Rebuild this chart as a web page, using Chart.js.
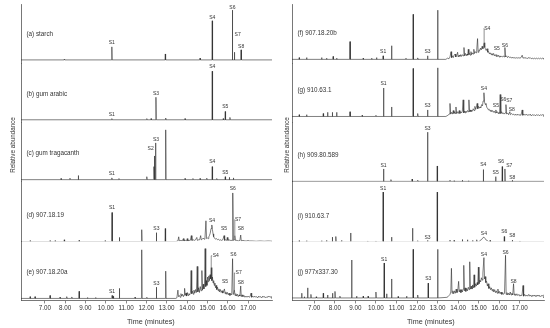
<!DOCTYPE html>
<html>
<head>
<meta charset="utf-8">
<script src="https://cdn.jsdelivr.net/npm/chart.js@4.4.1/dist/chart.umd.min.js"></script>
<style>
  html, body { margin: 0; padding: 0; background: #fff; }
  #wrap { position: relative; width: 550px; height: 328px; }
  canvas { position: absolute; top: 0; }
  #left { left: 0; }
  #right { left: 275px; }
</style>
</head>
<body>
<div id="wrap">
  <canvas id="left" width="275" height="328"></canvas>
  <canvas id="right" width="275" height="328"></canvas>
</div>
<script>
// ---------- data (time in minutes, abundance in % of trace height) ----------
const timeTicks = [7, 8, 9, 10, 11, 12, 13, 14, 15, 16, 17];

const leftNames = ['(a) starch', '(b) gum arabic', '(c) gum tragacanth', '(d) 907.18.19', '(e) 907.18.20a'];
const rightNames = ['(f) 907.18.20b', '(g) 910.63.1', '(h) 909.80.589', '(i) 910.63.7', '(j) 977x337.30'];

// narrow peaks: time, height
const peaksA = [7.96,1, 10.30,22, 12.93,10, 14.64,3, 15.24,66, 16.23,84, 16.33,13, 16.66,17];
const peaksB = [10.30,2, 12.02,2, 12.23,2, 12.47,38, 12.95,3, 13.90,2, 15.24,82, 15.78,2, 15.88,14, 16.11,4];
const peaksC = [7.80,2, 8.24,2.5, 8.65,7, 10.30,3, 10.65,2, 12.02,5, 12.37,22, 12.40,40, 12.45,62, 12.95,84,
  13.90,2, 14.29,2, 14.64,2, 14.97,2.5, 15.24,22, 15.46,2, 15.88,5, 16.08,4, 16.28,3];
const peaksD = [6.28,1.5, 7.26,1.5, 7.51,1.5, 7.96,3, 8.69,2, 9.97,1.5, 10.31,49, 10.67,7, 11.77,20, 12.49,15, 12.93,22];
const peaksE = [6.28,3, 6.52,3, 7.26,5, 7.75,2, 8.08,3, 8.33,2.5, 8.69,12, 9.10,1.5, 9.50,1.5, 10.31,5, 10.37,3.5,
  10.67,17, 11.44,2, 11.77,82, 12.02,2, 12.49,19, 12.95,46];
const peaksF = [6.27,3, 6.63,3, 7.36,3, 7.60,2, 7.92,5, 8.09,2, 8.74,30, 9.38,2, 9.79,2, 10.03,3, 10.35,6, 10.76,23,
  11.46,2, 11.81,76, 12.03,2.5, 12.51,6, 13.00,83];
const peaksG = [6.27,3, 6.63,3, 7.44,5, 7.65,7, 7.88,7, 8.09,7, 8.74,8, 9.33,2, 10.00,2, 10.37,48, 10.76,16,
  11.81,81, 12.03,5, 12.51,11, 13.00,82];
const peaksH = [10.37,21, 10.73,3, 11.76,4, 12.03,2, 12.51,83, 12.98,26, 13.60,2, 13.80,1, 14.20,2, 14.50,1,
  15.22,20, 15.82,8, 16.14,25, 16.27,21, 16.63,2];
const peaksI = [6.27,2, 6.63,2, 7.36,2, 7.60,2.5, 7.88,8, 8.05,9, 8.33,2.5, 8.77,15, 9.60,1.5, 10.00,1.5, 10.35,84,
  10.76,8, 11.78,23, 12.03,2, 12.51,2.5, 12.98,84, 13.60,3, 13.80,2.5, 14.20,4, 14.45,3.5, 14.70,2.5, 14.90,3.5,
  15.55,2.5, 16.24,9, 16.63,3, 17.00,1.5];
const peaksJ = [6.39,8, 6.52,2, 6.68,17, 6.84,6, 7.10,2, 7.44,8, 7.65,5, 7.89,8, 8.01,11, 8.25,3, 8.82,64, 9.06,3,
  9.38,3, 9.62,3, 10.00,10, 10.40,59, 10.52,7, 10.76,32, 11.08,2.5, 11.49,3, 11.81,82, 12.03,5, 12.54,25, 13.00,82];

// unresolved hump regions: time, level
const humpD = [13.45,0, 13.55,1, 13.59,8, 13.62,1, 13.70,2, 13.76,1, 13.82,5, 13.85,1, 13.92,2, 13.97,1, 14.01,5,
  14.04,1, 14.10,2, 14.16,2, 14.21,10, 14.24,2, 14.30,3, 14.36,2, 14.42,3, 14.48,7, 14.51,2, 14.57,3, 14.62,3,
  14.67,10, 14.70,3, 14.75,4, 14.80,6, 14.84,4, 14.88,5, 14.93,35, 14.96,5, 15.00,6, 15.04,5, 15.07,8, 15.10,10,
  15.14,14, 15.18,22, 15.22,28, 15.25,20, 15.28,13, 15.31,8, 15.35,6, 15.40,4, 15.45,5, 15.50,3, 15.55,4, 15.60,2,
  15.65,3, 15.70,2, 15.76,3, 15.82,10, 15.85,2, 15.90,3, 15.95,2, 15.98,7, 16.01,2, 16.06,3, 16.12,2, 16.22,2,
  16.25,82, 16.28,2, 16.32,3, 16.35,10, 16.38,2, 16.45,2, 16.52,1, 16.60,2, 16.64,11, 16.67,1, 16.75,2, 16.85,1,
  16.95,1, 17.00,2, 17.05,1, 17.20,1, 17.40,0.5, 17.60,1, 17.80,0.5, 18.00,1, 18.20,0.5];
const humpE = [13.45,0, 13.50,1, 13.55,14, 13.58,3, 13.62,5, 13.66,2, 13.70,8, 13.74,4, 13.78,7, 13.82,3, 13.86,6,
  13.88,17, 13.91,5, 13.95,9, 13.98,4, 14.01,10, 14.05,5, 14.09,8, 14.13,6, 14.17,10, 14.20,47, 14.23,8, 14.27,12,
  14.31,7, 14.34,14, 14.38,9, 14.42,15, 14.46,10, 14.50,54, 14.53,11, 14.57,18, 14.61,10, 14.65,20, 14.69,13,
  14.73,47, 14.76,14, 14.80,24, 14.83,16, 14.86,26, 14.89,84, 14.92,20, 14.95,30, 14.98,22, 15.01,36, 15.04,28,
  15.07,38, 15.10,30, 15.13,40, 15.16,33, 15.19,52, 15.22,30, 15.25,36, 15.28,26, 15.31,30, 15.34,22, 15.37,26,
  15.40,18, 15.43,22, 15.46,15, 15.50,19, 15.53,13, 15.57,16, 15.60,11, 15.64,15, 15.68,10, 15.72,13, 15.76,9,
  15.80,12, 15.84,16, 15.87,8, 15.91,11, 15.95,7, 15.99,10, 16.03,6, 16.07,9, 16.11,5, 16.15,8, 16.20,6, 16.24,67,
  16.27,7, 16.30,9, 16.33,14, 16.36,5, 16.40,8, 16.44,4, 16.48,7, 16.52,3, 16.56,6, 16.60,4, 16.64,21, 16.67,3,
  16.71,6, 16.75,3, 16.80,5, 16.85,2, 16.90,4, 16.95,2, 17.00,4, 17.05,2, 17.10,3, 17.15,9, 17.18,2, 17.23,4,
  17.28,2, 17.33,4, 17.38,2, 17.43,3, 17.48,1, 17.53,4, 17.58,2, 17.63,3, 17.68,1, 17.73,4, 17.78,2, 17.83,3,
  17.88,1, 17.93,3, 17.98,2, 18.03,4, 18.08,2, 18.13,3, 18.20,2];
const humpF = [13.40,0, 13.48,2, 13.55,1, 13.60,4, 13.65,13, 13.68,3, 13.72,6, 13.76,3, 13.80,7, 13.85,9, 13.88,4,
  13.92,6, 13.97,12, 14.00,4, 14.04,7, 14.08,5, 14.12,8, 14.16,5, 14.20,8, 14.24,6, 14.28,20, 14.31,6, 14.35,10,
  14.39,6, 14.43,9, 14.46,7, 14.49,17, 14.52,8, 14.56,10, 14.59,7, 14.62,13, 14.65,8, 14.69,11, 14.72,9, 14.76,17,
  14.79,10, 14.83,13, 14.87,11, 14.90,16, 14.94,35, 14.97,12, 15.01,16, 15.05,15, 15.08,19, 15.12,16, 15.16,22,
  15.20,18, 15.23,24, 15.26,28, 15.29,20, 15.32,18, 15.36,15, 15.40,18, 15.44,12, 15.48,13, 15.52,9, 15.56,11,
  15.60,8, 15.64,10, 15.68,7, 15.72,10, 15.76,6, 15.80,8, 15.84,5, 15.87,8, 15.91,5, 15.95,7, 15.99,4, 16.03,6,
  16.07,4, 16.11,5, 16.15,4, 16.20,6, 16.24,4, 16.27,20, 16.30,4, 16.35,6, 16.40,3, 16.45,5, 16.50,3, 16.55,4,
  16.60,2, 16.65,4, 16.70,2, 16.75,3, 16.80,2, 16.85,3, 16.90,2, 16.95,3, 17.00,2, 17.05,3, 17.11,7, 17.15,2,
  17.20,3, 17.25,2, 17.30,3, 17.35,1, 17.40,3, 17.45,2, 17.50,3, 17.55,1, 17.60,2, 17.65,1, 17.70,2, 17.75,1,
  17.80,2, 17.85,1, 17.90,2, 17.95,1, 18.00,2, 18.05,1, 18.10,2, 18.20,1];
const humpG = [13.40,0, 13.50,2, 13.56,4, 13.60,22, 13.63,4, 13.67,7, 13.71,4, 13.76,10, 13.79,5, 13.83,8, 13.86,5,
  13.89,16, 13.92,5, 13.96,8, 14.00,5, 14.05,10, 14.08,5, 14.12,8, 14.16,6, 14.20,9, 14.24,28, 14.27,6, 14.31,9,
  14.34,6, 14.37,9, 14.41,7, 14.45,10, 14.48,8, 14.52,28, 14.55,8, 14.59,11, 14.62,8, 14.65,10, 14.69,9, 14.73,13,
  14.77,10, 14.81,17, 14.85,12, 14.88,15, 14.92,22, 14.95,13, 14.99,17, 15.03,14, 15.06,16, 15.10,15, 15.14,20,
  15.18,18, 15.21,26, 15.25,40, 15.28,24, 15.32,20, 15.35,22, 15.39,15, 15.43,14, 15.47,11, 15.51,12, 15.55,9,
  15.59,11, 15.63,8, 15.67,10, 15.71,7, 15.75,9, 15.79,6, 15.83,11, 15.86,6, 15.90,8, 15.94,5, 15.98,7, 16.01,5,
  16.04,37, 16.07,5, 16.11,8, 16.15,5, 16.19,6, 16.23,4, 16.28,6, 16.32,20, 16.35,4, 16.40,6, 16.45,3, 16.51,8,
  16.54,3, 16.60,5, 16.65,3, 16.70,4, 16.75,2, 16.80,4, 16.85,2, 16.90,4, 16.95,2, 17.00,3, 17.05,2, 17.11,11,
  17.14,2, 17.20,4, 17.25,2, 17.30,4, 17.35,2, 17.40,3, 17.45,2, 17.50,4, 17.55,1, 17.60,3, 17.65,2, 17.70,3,
  17.75,1, 17.80,3, 17.85,2, 17.90,3, 17.95,1, 18.00,3, 18.05,2, 18.10,3, 18.20,2];
const humpI = [15.02,0, 15.08,3, 15.14,4, 15.20,7, 15.25,8, 15.30,6, 15.36,3, 15.42,2, 15.48,0];
const humpJ = [13.45,1, 13.50,2, 13.55,4, 13.60,6, 13.64,10, 13.67,50, 13.70,8, 13.74,12, 13.78,7, 13.82,12, 13.86,8,
  13.90,15, 13.94,9, 13.98,13, 14.02,28, 14.05,10, 14.09,14, 14.13,9, 14.17,14, 14.20,10, 14.24,15, 14.27,55,
  14.30,12, 14.34,17, 14.37,11, 14.41,16, 14.45,12, 14.49,18, 14.53,14, 14.56,61, 14.59,15, 14.63,20, 14.67,15,
  14.70,22, 14.74,17, 14.77,39, 14.80,18, 14.84,24, 14.88,20, 14.92,26, 14.95,22, 14.98,52, 15.01,24, 15.05,30,
  15.09,27, 15.13,34, 15.17,30, 15.20,42, 15.25,68, 15.28,32, 15.31,36, 15.34,26, 15.38,28, 15.42,20, 15.45,24,
  15.49,16, 15.53,19, 15.57,14, 15.61,17, 15.65,12, 15.69,15, 15.73,10, 15.77,14, 15.81,9, 15.85,12, 15.89,8,
  15.93,15, 15.96,8, 16.00,11, 16.04,7, 16.08,10, 16.12,6, 16.16,9, 16.20,6, 16.25,8, 16.30,72, 16.33,6, 16.37,9,
  16.41,5, 16.45,8, 16.49,5, 16.53,10, 16.57,5, 16.61,8, 16.65,5, 16.69,24, 16.72,5, 16.76,7, 16.80,4, 16.85,7,
  16.90,4, 16.95,6, 17.00,3, 17.05,5, 17.10,4, 17.15,21, 17.18,3, 17.23,6, 17.28,3, 17.33,5, 17.38,3, 17.43,6,
  17.48,3, 17.53,5, 17.58,2, 17.63,5, 17.68,3, 17.73,5, 17.78,2, 17.83,5, 17.88,3, 17.93,5, 17.98,2, 18.03,4,
  18.08,3, 18.13,5, 18.20,3];

// peak labels: name, time, level [, leader time, leader level]
const labelsA = [['S1',10.30,29], ['S4',15.24,71], ['S6',16.23,89], ['S7',16.49,42], ['S8',16.66,23]];
const labelsB = [['S1',10.30,8], ['S3',12.47,44], ['S4',15.24,90], ['S5',15.88,22]];
const labelsC = [['S1',10.30,10], ['S2',12.21,52], ['S3',12.47,68], ['S4',15.24,30], ['S5',15.88,12]];
const labelsD = [['S1',10.31,57], ['S3',12.49,21], ['S4',15.23,35], ['S5',15.82,21], ['S6',16.25,89],
  ['S7',16.51,37,16.35,10], ['S8',16.64,21]];
const labelsE = [['S1',10.31,11], ['S3',12.49,25], ['S4',15.41,72,15.19,52], ['S5',15.87,29], ['S6',16.28,74],
  ['S7',16.54,43,16.33,14], ['S8',16.64,27]];
const labelsF = [['S1',10.35,13], ['S3',12.51,13], ['S4',15.41,52,15.26,28], ['S5',15.87,18], ['S6',16.27,24]];
const labelsG = [['S1',10.37,56], ['S3',12.51,18], ['S4',15.25,47], ['S5',15.83,19], ['S6',16.19,29],
  ['S7',16.48,26], ['S8',16.60,11]];
const labelsH = [['S1',10.37,26], ['S3',12.51,89], ['S4',15.22,28], ['S5',15.82,14], ['S6',16.08,33],
  ['S7',16.48,27], ['S8',16.63,7]];
const labelsI = [['S1',10.35,89], ['S3',12.51,7], ['S4',15.25,14], ['S6',16.24,17], ['S8',16.63,11]];
const labelsJ = [['S1',10.40,64], ['S3',12.54,32], ['S4',15.25,73], ['S6',16.30,77], ['S8',16.69,28]];

// ---------- helpers ----------
const FONT = '"Liberation Sans", Arial, sans-serif';
const INK = '#2a2a2a';

function pairs(flat) {
  const out = [];
  for (let i = 0; i < flat.length; i += 2) out.push([flat[i], flat[i + 1]]);
  return out;
}

// turn a peak list + hump list into one chromatogram trace
function buildTrace(peaks, hump, tMin, tMax) {
  const pts = [];
  pairs(peaks).forEach(([t, h]) => {
    pts.push({ x: t - 0.015, y: 0 }, { x: t, y: h }, { x: t + 0.015, y: 0 });
  });
  pairs(hump || []).forEach(([t, v]) => pts.push({ x: t, y: v }));
  pts.sort((a, b) => a.x - b.x);
  return [{ x: tMin, y: 0 }, ...pts, { x: tMax, y: 0 }];
}

const annotate = {
  id: 'annotate',
  afterDatasetsDraw(chart, args, o) {
    const { ctx, chartArea, scales } = chart;
    const xs = scales.x;
    ctx.save();
    ctx.fillStyle = '#333';
    ctx.strokeStyle = '#444';
    ctx.lineWidth = 0.6;
    ctx.textAlign = 'center';
    ctx.textBaseline = 'middle';
    ctx.font = '5px ' + FONT;
    o.labels.forEach((list, i) => {
      const ys = scales['y' + i];
      list.forEach(([name, t, v, tp, vp]) => {
        const px = xs.getPixelForValue(t), py = ys.getPixelForValue(v);
        ctx.fillText(name, px, py);
        if (tp !== undefined) {
          const qx = xs.getPixelForValue(tp), qy = ys.getPixelForValue(vp);
          ctx.beginPath();
          ctx.moveTo(px - 3.5, py);
          ctx.lineTo(qx, py);
          ctx.lineTo(qx, qy);
          ctx.stroke();
        }
      });
    });
    // trace names
    ctx.textAlign = 'left';
    ctx.font = '6.3px ' + FONT;
    o.names.forEach((n, i) => {
      ctx.fillText(n, chartArea.left + 5.5, scales['y' + i].getPixelForValue(0) - 26);
    });
    // axis titles
    ctx.textAlign = 'center';
    ctx.font = '7.2px ' + FONT;
    ctx.fillText('Time (minutes)', o.titleX, 322);
    ctx.translate(o.yTitleX, 145);
    ctx.rotate(-Math.PI / 2);
    ctx.font = '6.3px ' + FONT;
    ctx.fillText('Relative abundance', 0, 0);
    ctx.restore();
  }
};

function makePanel(id, traces, names, range, mins, pad, titleX, yTitleX) {
  const scales = {
    x: {
      type: 'linear', min: range[0], max: range[1],
      afterBuildTicks: s => { s.ticks = timeTicks.map(v => ({ value: v })); },
      ticks: { autoSkip: false, maxRotation: 0, padding: 1, color: '#333',
        font: { family: FONT, size: 6.3 }, callback: v => v.toFixed(2) },
      grid: { drawOnChartArea: false, drawTicks: true, tickLength: 3, color: '#555', lineWidth: 0.7 },
      border: { display: true, color: '#555', width: 0.8 }
    }
  };
  // stacked left scales are laid out last-first, so add the bottom trace first
  for (let i = mins.length - 1; i >= 0; i--) {
    scales['y' + i] = {
      type: 'linear', position: 'left', stack: 'traces', stackWeight: 1,
      min: mins[i], max: mins[i] + 100,
      ticks: { display: false },
      grid: { display: false, drawTicks: false },
      border: { display: true, color: '#555', width: 0.8 }
    };
  }
  new Chart(document.getElementById(id), {
    type: 'scatter',
    data: {
      datasets: traces.map((t, i) => ({
        data: buildTrace(t.peaks, t.hump, range[0], range[1]),
        yAxisID: 'y' + i, showLine: true, borderColor: INK, borderWidth: 0.6,
        pointRadius: 0, tension: 0
      }))
    },
    options: {
      responsive: false, animation: false,
      layout: { padding: pad },
      scales,
      plugins: {
        legend: { display: false }, tooltip: { enabled: false },
        annotate: { labels: traces.map(t => t.labels), names, titleX, yTitleX }
      }
    },
    plugins: [annotate]
  });
}

makePanel('left', [
  { peaks: peaksA, labels: labelsA },
  { peaks: peaksB, labels: labelsB },
  { peaks: peaksC, labels: labelsC },
  { peaks: peaksD, hump: humpD, labels: labelsD },
  { peaks: peaksE, hump: humpE, labels: labelsE }
], leftNames, [5.83, 18.18], [-5.7, -4.7, -3.7, 0.7, -3.4],
  { left: 21, right: 3, top: 4, bottom: 15 }, 150.8, 13);

makePanel('right', [
  { peaks: peaksF, hump: humpF, labels: labelsF },
  { peaks: peaksG, hump: humpG, labels: labelsG },
  { peaks: peaksH, labels: labelsH },
  { peaks: peaksI, hump: humpI, labels: labelsI },
  { peaks: peaksJ, hump: humpJ, labels: labelsJ }
], rightNames, [5.92, 18.17], [-6.6, -10.3, -0.8, 1.2, -4.2],
  { left: 17, right: 6, top: 4, bottom: 15 }, 155.8, 12);
</script>
</body>
</html>
